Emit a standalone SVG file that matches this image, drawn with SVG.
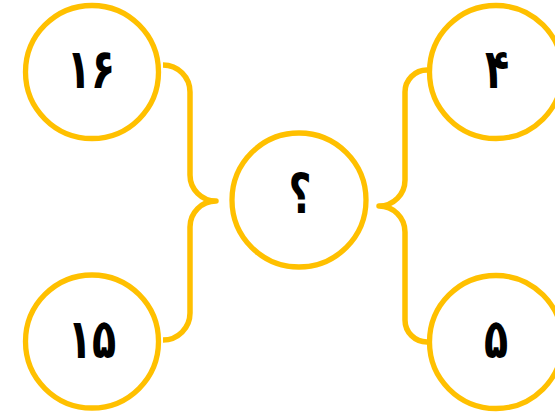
<svg xmlns="http://www.w3.org/2000/svg" width="555" height="413" viewBox="0 0 555 413">
<style>
.c{fill:#fff;stroke:#FFC000;stroke-width:5.3}
.b{fill:none;stroke:#FFC000;stroke-width:5.5;stroke-linejoin:round}
.t{font-family:"DejaVu Sans",sans-serif;font-weight:bold;font-size:55px;fill:#000;text-anchor:middle}
</style>
<rect width="555" height="413" fill="#fff"/>
<g id="connectors">
<path class="b" d="M163,65 A27,27 0 0 1 190,92 L190,175 A26,26 0 0 0 216,201 A26,26 0 0 0 190,227 L190,313 A27,27 0 0 1 163,340"/>
<path class="b" d="M427,70 A22,22 0 0 0 405,92 L405,180 A26,26 0 0 1 379,206 A26,26 0 0 1 405,232 L405,320 A22,22 0 0 0 427,342"/>
</g>
<g id="n16"><circle class="c" cx="92" cy="72" r="66.5"/><text class="t" transform="translate(91,88) scale(0.72,1)">۱۶</text></g>
<g id="n15"><circle class="c" cx="92" cy="341.5" r="66.5"/><text class="t" transform="translate(92,358) scale(0.72,1)">۱۵</text></g>
<g id="q"><circle class="c" cx="299" cy="200" r="67"/><text class="t" transform="translate(300,213) scale(0.72,1)">؟</text></g>
<g id="n4"><circle class="c" cx="496" cy="72" r="66.5"/><text class="t" transform="translate(497,88) scale(0.72,1)">۴</text></g>
<g id="n5"><circle class="c" cx="496" cy="342" r="66.5"/><text class="t" transform="translate(496,358) scale(0.72,1)">۵</text></g>
</svg>
